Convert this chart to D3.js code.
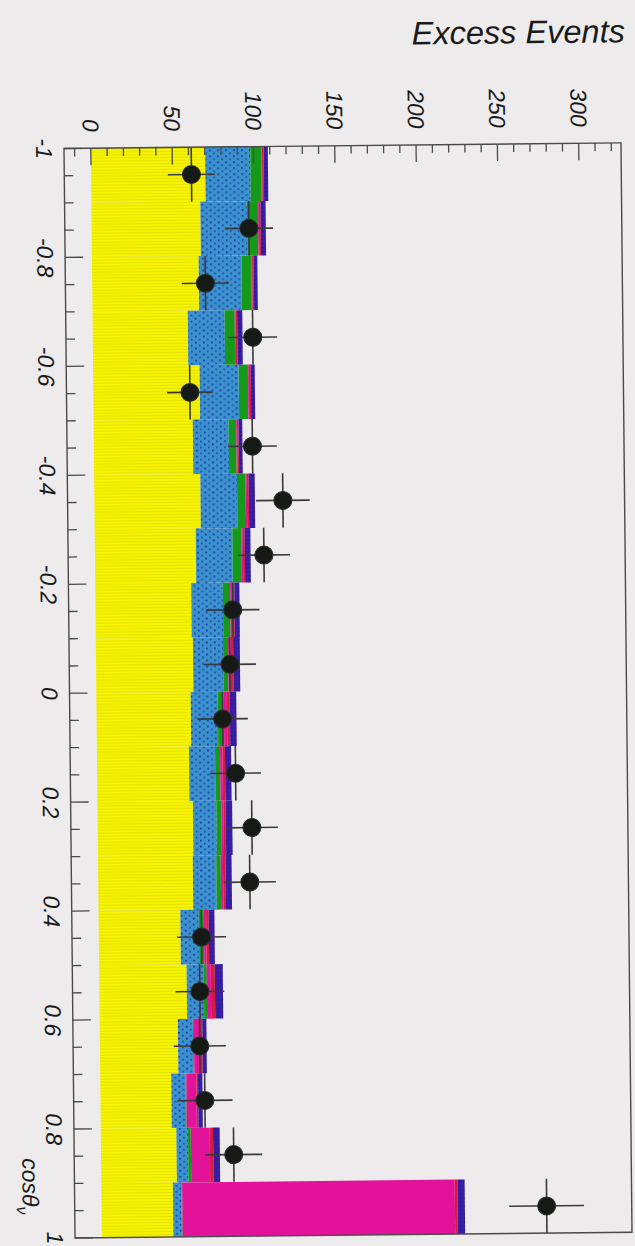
<!DOCTYPE html>
<html><head><meta charset="utf-8">
<script src="https://cdn.jsdelivr.net/npm/d3@7"></script>
<style>
html,body{margin:0;padding:0;background:#edebec;}
svg{display:block;}
text{font-family:"Liberation Sans",Arial,sans-serif;fill:#1a1a1a;}
</style></head><body>
<svg id="chart" width="635" height="1246"></svg>
<script>
// cos(theta_nu) bins (centres, width 0.1)
const binCenters = [-0.95,-0.85,-0.75,-0.65,-0.55,-0.45,-0.35,-0.25,-0.15,-0.05,
                     0.05, 0.15, 0.25, 0.35, 0.45, 0.55, 0.65, 0.75, 0.85, 0.95];
const binWidth = 0.1;

// stacked prediction components (events per bin)
const yellowPart  = [70.3,67.0,65.6,58.6,65.5,61.0,65.3,62.1,59.0,59.7,58.0,56.6,58.7,58.3,50.3,53.8,48.1,43.7,46.5,44.0];
const bluePart    = [27.7,28.6,26.3,22.6,24.0,22.0,22.5,22.5,19.4,18.5,16.6,16.0,14.4,14.4,11.3,10.5,9.2,8.8,7.1,5.2];
const greenPart   = [6.8,6.8,6.1,6.2,5.7,4.7,5.3,5.6,4.5,3.1,3.7,3.1,3.1,2.7,3.1,1.8,0.6,0.4,1.7,0.5];
const magentaPart = [0.4,0.5,0.4,0.5,0.5,0.5,0.7,0.8,1.0,1.5,1.9,1.5,1.3,1.4,1.4,2.5,3.5,6.2,11.7,167.6];
const redPart     = [1.0,1.1,1.0,1.0,1.2,0.9,1.2,1.2,1.6,1.6,1.8,1.5,1.3,1.6,1.6,2.5,1.7,1.0,2.0,1.6];
const navyPart    = [2.6,3.1,2.3,3.2,2.5,2.3,3.7,3.5,3.1,4.1,4.0,3.8,4.0,3.7,3.5,4.9,2.5,2.7,4.1,4.5];

// measured excess events and their errors
const dataValues = [61.7,96.7,69.6,98.4,59.4,97.5,115.9,103.9,84.4,82.3,77.5,85.1,94.8,93.2,63.2,61.8,61.4,64.2,81.6,273.7];
const dataErrors = [14.5,14.8,14.5,15.0,14.0,15.0,16.5,16.0,16.4,16.0,15.5,15.7,16.0,16.0,15.0,15.0,16.0,17.0,17.5,23.0];

// axis labels
const valueTickValues = [0,50,100,150,200,250,300];
const valueTickLabels = ["0","50","100","150","200","250","300"];
const cosTickValues = [-1,-0.8,-0.6,-0.4,-0.2,0,0.2,0.4,0.6,0.8,1];
const cosTickLabels = ["-1","-0.8","-0.6","-0.4","-0.2","0","0.2","0.4","0.6","0.8","1"];

const svg = d3.select("#chart");
const frame = {left:64, top:148.5, right:621, bottom:1238};

// the whole sheet sits a little askew on the page
const root = svg.append("g").attr("transform", `rotate(-0.58,${frame.left},${frame.top})`);

const vScale = d3.scaleLinear().domain([-16.5, 326]).range([frame.left, frame.right]);
const cScale = d3.scaleLinear().domain([-1, 1]).range([frame.top, frame.bottom]);

// fill patterns
const defs = svg.append("defs");
const pYellow = defs.append("pattern").attr("id","pYellow").attr("patternUnits","userSpaceOnUse")
  .attr("width",6).attr("height",3);
pYellow.append("rect").attr("width",6).attr("height",3).attr("fill","#f7f400");
pYellow.append("rect").attr("y",2).attr("width",6).attr("height",1).attr("fill","#e6e200");

const pBlue = defs.append("pattern").attr("id","pBlue").attr("patternUnits","userSpaceOnUse")
  .attr("width",8).attr("height",6);
pBlue.append("rect").attr("width",8).attr("height",6).attr("fill","#3a92cb");
pBlue.append("rect").attr("x",1).attr("y",1).attr("width",1.7).attr("height",1.7).attr("fill","#1f23b0");
pBlue.append("rect").attr("x",5).attr("y",4).attr("width",1.7).attr("height",1.7).attr("fill","#2a3cb8");

const pNavy = defs.append("pattern").attr("id","pNavy").attr("patternUnits","userSpaceOnUse")
  .attr("width",4).attr("height",4);
pNavy.append("rect").attr("width",4).attr("height",4).attr("fill","#3b1ea6");
pNavy.append("rect").attr("x",1).attr("y",1).attr("width",1.5).attr("height",1.5).attr("fill","#1d1a8a");

const components = [
  {key:"yellow",  values:yellowPart,  fill:"url(#pYellow)"},
  {key:"blue",    values:bluePart,    fill:"url(#pBlue)"},
  {key:"green",   values:greenPart,   fill:"#16981a"},
  {key:"magenta", values:magentaPart, fill:"#e2129a"},
  {key:"red",     values:redPart,     fill:"#d81a3c"},
  {key:"navy",    values:navyPart,    fill:"url(#pNavy)"}
];

const table = binCenters.map((c,i) => {
  const row = {c};
  components.forEach(k => row[k.key] = k.values[i]);
  return row;
});
const stack = d3.stack().keys(components.map(k => k.key))(table);

const bars = root.append("g");
stack.forEach((layer, li) => {
  bars.append("g").selectAll("rect").data(layer).join("rect")
    .attr("x", d => vScale(d[0]))
    .attr("width", d => Math.max(0, vScale(d[1]) - vScale(d[0])))
    .attr("y", d => cScale(d.data.c - binWidth/2))
    .attr("height", d => cScale(d.data.c + binWidth/2) - cScale(d.data.c - binWidth/2))
    .attr("fill", components[li].fill);
});

// data points with error bars
const pts = root.append("g");
binCenters.forEach((c,i) => {
  const g = pts.append("g");
  g.append("line")
    .attr("x1", vScale(dataValues[i]-dataErrors[i])).attr("x2", vScale(dataValues[i]+dataErrors[i]))
    .attr("y1", cScale(c)).attr("y2", cScale(c))
    .attr("stroke","#3a3a3a").attr("stroke-width",1.6);
  g.append("line")
    .attr("x1", vScale(dataValues[i])).attr("x2", vScale(dataValues[i]))
    .attr("y1", cScale(c-binWidth/2)).attr("y2", cScale(c+binWidth/2))
    .attr("stroke","#3a3a3a").attr("stroke-width",1.6);
  g.append("circle")
    .attr("cx", vScale(dataValues[i])).attr("cy", cScale(c)).attr("r", 9)
    .attr("fill","#161a16").attr("stroke","#2c2c2c").attr("stroke-width",1);
});

// frame
root.append("rect")
  .attr("x", frame.left).attr("y", frame.top)
  .attr("width", frame.right-frame.left).attr("height", frame.bottom-frame.top)
  .attr("fill","none").attr("stroke","#4a4a4a").attr("stroke-width",1.4);

// value axis ticks along the top edge
const axisG = root.append("g").attr("stroke","#4a4a4a").attr("stroke-width",1.3);
d3.range(-10, 321, 10).forEach(v => {
  const major = v % 50 === 0;
  axisG.append("line")
    .attr("x1", vScale(v)).attr("x2", vScale(v))
    .attr("y1", frame.top).attr("y2", frame.top + (major ? 17 : 8));
});
// cos axis ticks along the left edge
d3.range(0, 41).map(k => -1 + k*0.05).forEach(c => {
  const major = Math.abs(Math.round(c*5) - c*5) < 1e-6;
  axisG.append("line")
    .attr("x1", frame.left).attr("x2", frame.left + (major ? 18 : 9))
    .attr("y1", cScale(c)).attr("y2", cScale(c));
});

// value labels (rotated)
root.append("g").selectAll("text").data(valueTickValues).join("text")
  .attr("transform", d => `translate(${vScale(d)-8},132) rotate(90)`)
  .attr("text-anchor","end")
  .attr("font-size",23).attr("font-style","italic")
  .text((d,i) => valueTickLabels[i]);

// cos labels (rotated)
root.append("g").selectAll("text").data(cosTickValues).join("text")
  .attr("transform", d => `translate(36,${cScale(d)}) rotate(90)`)
  .attr("text-anchor","middle")
  .attr("font-size",23).attr("font-style","italic")
  .text((d,i) => cosTickLabels[i]);

// axis titles
root.append("text")
  .attr("x", 626).attr("y", 48)
  .attr("text-anchor","end").attr("font-size",32.5).attr("font-style","italic")
  .text("Excess Events");

const xTitle = root.append("text")
  .attr("transform", `translate(12,1214) rotate(90)`)
  .attr("text-anchor","end").attr("font-size",23).attr("font-style","italic");
xTitle.append("tspan").text("cos\u03B8");
xTitle.append("tspan").attr("font-size",16).attr("dy",6).text("\u03BD");
</script>
</body></html>
